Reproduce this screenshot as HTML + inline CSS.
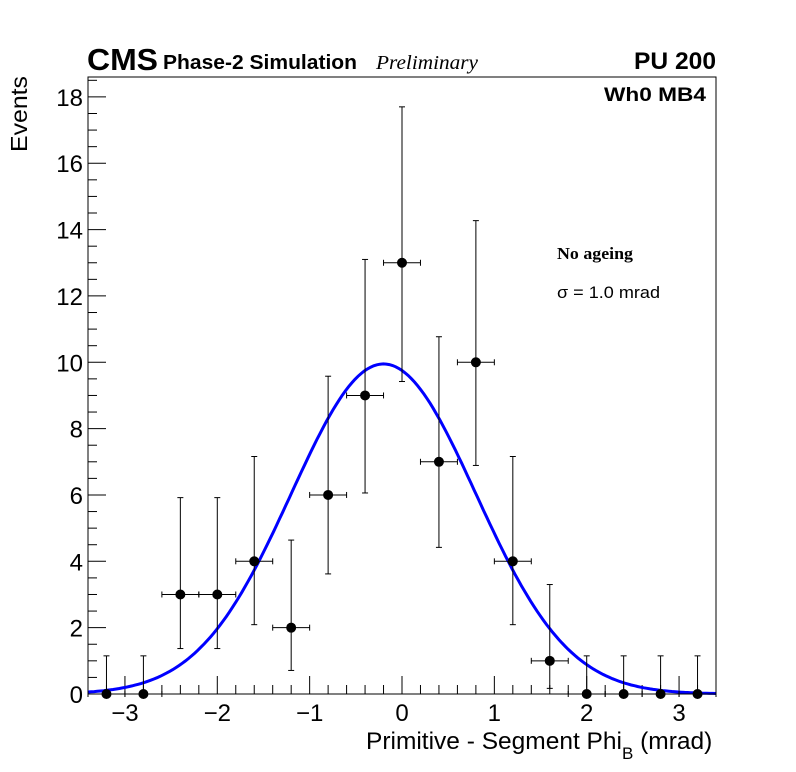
<!DOCTYPE html>
<html><head><meta charset="utf-8"><style>
html,body{margin:0;padding:0;background:#fff;}
svg{display:block;font-family:"Liberation Sans",sans-serif;}
</style></head><body>
<svg id="chart" width="796" height="772" viewBox="0 0 796 772" xmlns="http://www.w3.org/2000/svg">
<rect width="796" height="772" fill="#fff"/>
<g id="axes"></g>
<g id="fit"></g>
<g id="pts"></g>
<text x="87" y="70" font-size="31" font-weight="bold" textLength="71" lengthAdjust="spacingAndGlyphs">CMS</text>
<text x="163" y="69" font-size="20" font-weight="bold" textLength="194" lengthAdjust="spacingAndGlyphs">Phase-2 Simulation</text>
<text x="376" y="69" font-size="20" font-style="italic" font-family="Liberation Serif, serif" textLength="102" lengthAdjust="spacingAndGlyphs">Preliminary</text>
<text x="634" y="69" font-size="24" font-weight="bold" textLength="82" lengthAdjust="spacingAndGlyphs">PU 200</text>
<text x="604" y="101" font-size="19" font-weight="bold" textLength="102" lengthAdjust="spacingAndGlyphs">Wh0 MB4</text>
<text x="557" y="259" font-size="17" font-weight="bold" font-family="Liberation Serif, serif" textLength="76" lengthAdjust="spacingAndGlyphs">No ageing</text>
<text x="557" y="298" font-size="17" textLength="103" lengthAdjust="spacingAndGlyphs">σ = 1.0 mrad</text>
<text transform="translate(27,152) rotate(-90)" font-size="23" textLength="76" lengthAdjust="spacingAndGlyphs">Events</text>
<text x="366" y="749" font-size="24.5">Primitive - Segment Phi<tspan font-size="17" dy="10">B</tspan><tspan dy="-10"> (mrad)</tspan></text>
</svg>
<script>
const xCenters=[-3.2,-2.8,-2.4,-2.0,-1.6,-1.2,-0.8,-0.4,0.0,0.4,0.8,1.2,1.6,2.0,2.4,2.8,3.2];
const counts=[0,0,3,3,4,2,6,9,13,7,10,4,1,0,0,0,0];
const errLow=[0,0,1.63,1.63,1.91,1.29,2.38,2.94,3.58,2.58,3.11,1.91,0.83,0,0,0,0];
const errHigh=[1.15,1.15,2.92,2.92,3.16,2.64,3.58,4.1,4.7,3.77,4.27,3.16,2.3,1.15,1.15,1.15,1.15];
const binHalf=0.2;
const fitAmp=[9.95];const fitMean=[-0.2];const fitSigma=[1.0];
const xTicks=[-3,-2,-1,0,1,2,3];
const yTicks=[0,2,4,6,8,10,12,14,16,18];
const L=88,R=716,T=77,B=694,xmin=-3.4,xmax=3.4,ymin=0,ymax=18.6;
const sx=v=>L+(v-xmin)/(xmax-xmin)*(R-L);
const sy=v=>B-(v-ymin)/(ymax-ymin)*(B-T);
const NS="http://www.w3.org/2000/svg";
function mk(p,t,a){const e=document.createElementNS(NS,t);for(const k in a)e.setAttribute(k,a[k]);p.appendChild(e);return e;}
const ax=document.getElementById('axes');
let f=mk(ax,'rect',{x:L,y:T,width:R-L,height:B-T,fill:'none',stroke:'#000','stroke-width':1});


for(let v=-3.4;v<=3.401;v+=0.2){const vv=Math.round(v*10)/10;const maj=Math.abs(vv-Math.round(vv))<1e-6;
 const t=mk(ax,'line',{x1:sx(vv),x2:sx(vv),y1:B,y2:B-(maj?18:9),stroke:'#000'});
 
 }
xTicks.forEach(v=>{const t=mk(ax,'text',{x:sx(v),y:B+27,'font-size':24,'text-anchor':'middle'});t.textContent=v<0?'\u2212'+(-v):String(v);
 
 });
for(let v=0;v<=18.51;v+=0.5){const maj=Math.abs(v/2-Math.round(v/2))<1e-6;
 const t=mk(ax,'line',{x1:L,x2:L+(maj?18:9),y1:sy(v),y2:sy(v),stroke:'#000'});
 
 }
yTicks.forEach(v=>{const t=mk(ax,'text',{x:L-5,y:sy(v)+9,'font-size':24,'text-anchor':'end'});t.textContent=String(v);
 
 });
const fg=document.getElementById('fit');let d='';
for(let i=0;i<=200;i++){const x=xmin+(xmax-xmin)*i/200;const y=fitAmp[0]*Math.exp(-0.5*Math.pow((x-fitMean[0])/fitSigma[0],2));d+=(i?'L':'M')+sx(x).toFixed(1)+','+sy(y).toFixed(1);}
const pth=mk(fg,'path',{d:d,fill:'none',stroke:'#0000ff','stroke-width':3});


const pg=document.getElementById('pts');
xCenters.forEach((x,i)=>{const g=mk(pg,'g',{});
 
 
 const cx=sx(x),cy=sy(counts[i]);
 mk(g,'line',{x1:cx,x2:cx,y1:sy(counts[i]+errHigh[i]),y2:sy(counts[i]-errLow[i]),stroke:'#000'});
 mk(g,'line',{x1:sx(x-binHalf),x2:sx(x+binHalf),y1:cy,y2:cy,stroke:'#000'});
 [x-binHalf,x+binHalf].forEach(e=>mk(g,'line',{x1:sx(e),x2:sx(e),y1:cy-3,y2:cy+3,stroke:'#000'}));
 [counts[i]+errHigh[i],counts[i]-errLow[i]].forEach(e=>{if(e>0)mk(g,'line',{x1:cx-3,x2:cx+3,y1:sy(e),y2:sy(e),stroke:'#000'});});
 mk(g,'circle',{cx:cx,cy:cy,r:5,fill:'#000'});});
</script>
</body></html>
